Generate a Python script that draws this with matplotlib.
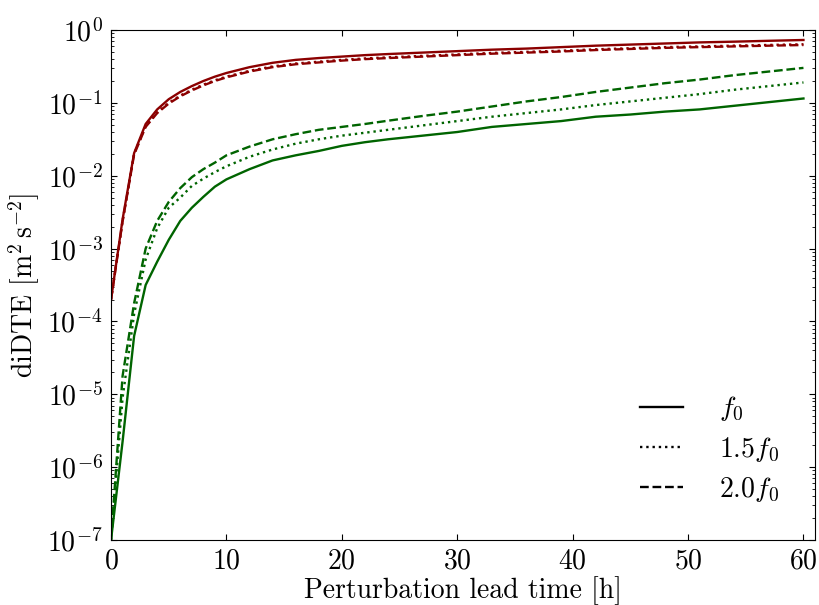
import numpy as np
import matplotlib
matplotlib.use("Agg")
import matplotlib.pyplot as plt
from matplotlib.lines import Line2D

plt.rcParams["font.family"] = "serif"
plt.rcParams["font.serif"] = ["cmr10"]
plt.rcParams["mathtext.fontset"] = "cm"
plt.rcParams["axes.formatter.use_mathtext"] = True
plt.rcParams["axes.unicode_minus"] = False

# lead time [h]
lead_time = [0, 1, 2, 3, 4, 5, 6, 7, 8, 9, 10, 12, 14, 16, 18, 20, 22, 24,
             27, 30, 33, 36, 39, 42, 45, 48, 51, 54, 57, 60]

# log10 of diDTE for each run
log_red_f0 = [-3.70, -2.60, -1.69, -1.29, -1.09, -0.95, -0.85, -0.77, -0.70,
              -0.64, -0.59, -0.51, -0.45, -0.41, -0.385, -0.365, -0.345, -0.33,
              -0.31, -0.29, -0.27, -0.255, -0.235, -0.215, -0.20, -0.185,
              -0.17, -0.16, -0.148, -0.137]
log_red_f15 = [-3.70, -2.62, -1.70, -1.32, -1.13, -1.00, -0.90, -0.82, -0.75,
               -0.69, -0.64, -0.56, -0.50, -0.46, -0.435, -0.41, -0.39, -0.375,
               -0.355, -0.335, -0.315, -0.30, -0.285, -0.265, -0.25, -0.235,
               -0.225, -0.215, -0.205, -0.196]
log_red_f20 = [-3.70, -2.63, -1.71, -1.33, -1.14, -1.01, -0.91, -0.83, -0.76,
               -0.70, -0.65, -0.57, -0.51, -0.47, -0.445, -0.42, -0.40, -0.385,
               -0.365, -0.345, -0.325, -0.31, -0.295, -0.275, -0.26, -0.245,
               -0.235, -0.225, -0.215, -0.206]

log_green_f0 = [-7.0, -5.65, -4.20, -3.50, -3.18, -2.88, -2.62, -2.44, -2.29,
                -2.15, -2.05, -1.91, -1.79, -1.72, -1.66, -1.59, -1.54, -1.50,
                -1.45, -1.40, -1.33, -1.29, -1.25, -1.19, -1.16, -1.12, -1.09,
                -1.04, -0.99, -0.94]
log_green_f15 = [-7.0, -5.05, -3.90, -3.15, -2.72, -2.44, -2.30, -2.14, -2.04,
                 -1.95, -1.87, -1.74, -1.64, -1.56, -1.50, -1.45, -1.41, -1.37,
                 -1.31, -1.25, -1.19, -1.14, -1.09, -1.03, -0.98, -0.93, -0.88,
                 -0.82, -0.77, -0.72]
log_green_f20 = [-7.0, -4.75, -3.75, -3.00, -2.62, -2.36, -2.17, -2.02, -1.91,
                 -1.82, -1.72, -1.60, -1.50, -1.43, -1.37, -1.33, -1.29, -1.245,
                 -1.18, -1.12, -1.05, -0.98, -0.92, -0.85, -0.79, -0.73, -0.68,
                 -0.62, -0.57, -0.52]

labels = [r"$f_0$", r"$1.5f_0$", r"$2.0f_0$"]
styles = ["-", ":", "--"]

fig = plt.figure(figsize=(8.2, 6.05), dpi=100)
ax = fig.add_axes([0.1354, 0.1074, 0.8585, 0.843])

t = np.array(lead_time)
for series, ls in zip([log_red_f0, log_red_f15, log_red_f20], styles):
    ax.plot(t, 10.0 ** np.array(series), ls, color="#8b0000", lw=1.7)
for series, ls in zip([log_green_f0, log_green_f15, log_green_f20], styles):
    ax.plot(t, 10.0 ** np.array(series), ls, color="#006400", lw=1.7)

ax.set_yscale("log")
ax.set_xlim(0, 61)
ax.set_ylim(1e-7, 1e0)
ax.set_xticks([0, 10, 20, 30, 40, 50, 60])

ax.tick_params(which="both", direction="in", top=True, right=True,
               labelsize=20, pad=6)
ax.tick_params(which="major", length=4)
ax.tick_params(which="minor", length=2)

ax.set_xlabel("Perturbation lead time [h]", fontsize=20, labelpad=1)
ax.set_ylabel(r"diDTE [m$^2\,$s$^{-2}$]", fontsize=20)

handles = [Line2D([], [], color="k", ls=ls, lw=1.7) for ls in styles]
ax.legend(handles, labels, loc="lower right", frameon=False, fontsize=20,
          handlelength=1.55, handletextpad=1.3, borderaxespad=0.9,
          labelspacing=0.42)

fig.savefig("out.png", dpi=100)
